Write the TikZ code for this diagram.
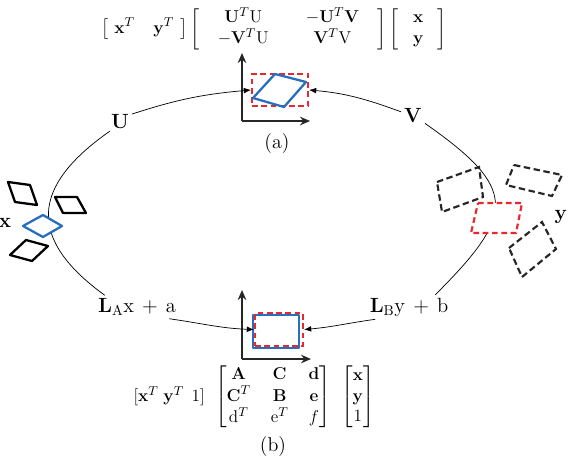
\documentclass[tikz,border=0pt]{standalone}
\usepackage{amsmath}
\usetikzlibrary{arrows.meta}
\definecolor{shapeblue}{RGB}{40,110,190}
\definecolor{shapered}{RGB}{232,40,45}

\begin{document}
\begin{tikzpicture}[
	x=0.7pt, y=0.7pt,
	lbl/.style={inner sep=2pt, font=\fontsize{14}{16}\selectfont},
	eqn/.style={inner sep=1pt, font=\fontsize{13}{14.5}\selectfont},
	axis/.style={-{Stealth[length=7pt,width=6pt]}, line width=1.6pt, black!85},
	orbitline/.style={line width=0.5pt, black},
	orbit/.style={orbitline, -{Latex[length=5pt,width=4pt]}},
	redbox/.style={draw=shapered, line width=1.5pt, dash pattern=on 4pt off 2.5pt, inner sep=0pt},
	bluebox/.style={draw=shapeblue, line width=1.6pt, line join=round},
	solidrh/.style={draw=black, line width=1.6pt, line join=round},
	dashrh/.style={draw=black!85, line width=1.5pt, dash pattern=on 4.5pt off 2.5pt}
]
\useasboundingbox (0,0) rectangle (568,-458);

\node[eqn, anchor=north] (topeq) at (274,-6) {$\bigl[\ \mathbf{x}^T\quad\mathbf{y}^T\ \bigr]\left[\setlength{\arraycolsep}{13pt}\begin{array}{cc}\mathbf{U}^T\mathrm{U} & -\mathbf{U}^T\mathbf{V}\\ -\mathbf{V}^T\mathrm{U} & \mathbf{V}^T\mathrm{V}\end{array}\right]\left[\setlength{\arraycolsep}{10pt}\begin{array}{c}\mathbf{x}\\ \mathbf{y}\end{array}\right]$};
\node[eqn] (boteq) at (254,-397) {\setlength{\arraycolsep}{7pt}$[\mathbf{x}^T\;\mathbf{y}^T\;\,1]\;\,\begin{bmatrix}\mathbf{A} & \mathbf{C} & \mathbf{d}\\ \mathbf{C}^T & \mathbf{B} & \mathbf{e}\\ \mathrm{d}^T & \mathrm{e}^T & f\end{bmatrix}\;\,\begin{bmatrix}\mathbf{x}\\ \mathbf{y}\\ 1\end{bmatrix}$};

\node[lbl] (ulab) at (120,-121) {$\mathbf{U}$};
\node[lbl] (vlab) at (413,-115) {$\mathbf{V}$};
\node[lbl] (xlab) at (5,-223) {$\mathbf{x}$};
\node[lbl] (ylab) at (561,-217) {$\mathbf{y}$};
\node[lbl] (lalab) at (137,-307) {$\mathbf{L}_{\mathrm{A}}\mathrm{x} \,+\, \mathrm{a}$};
\node[lbl] (lblab) at (409,-307) {$\mathbf{L}_{\mathrm{B}}\mathrm{y} \,+\, \mathrm{b}$};
\node[lbl] (alab) at (277,-144) {(a)};
\node[lbl] (blab) at (273,-447) {(b)};

\coordinate (topo) at (242,-121);
\draw[axis] (topo) -- ++(0,68);
\draw[axis] (topo) -- ++(68,0);
\node[redbox, minimum width=39.2pt, minimum height=22.4pt] (topbox) at (280,-90) {};
\draw[bluebox] (275,-74) -- (306,-82) -- (284,-107) -- (253,-98) -- cycle;

\coordinate (boto) at (242,-359);
\draw[axis] (boto) -- ++(0,69);
\draw[axis] (boto) -- ++(69,0);
\draw[bluebox] (253,-315) rectangle (299,-348);
\node[redbox, minimum width=33.6pt, minimum height=23.1pt] (botbox) at (279,-329.5) {};

\draw[orbit] (ulab.30) to[out=18,in=185] (topbox.west);
\draw[orbit] (vlab.165) to[out=160,in=-5] (topbox.east);
\draw[orbitline] (ulab.225) to[out=215,in=144,looseness=1.5] (lalab.160);
\draw[orbitline] (vlab.-35) to[out=-35,in=45,looseness=1.7] (lblab.25);
\draw[orbit] (lalab.-20) to[out=-8,in=178] (botbox.west);
\draw[orbit] (lblab.200) to[out=188,in=5] (botbox.east);

\draw[solidrh] (8,-182) -- (30,-185) -- (37,-205) -- (15,-202) -- cycle;
\draw[solidrh] (55,-197) -- (77,-197) -- (86,-213) -- (63,-213) -- cycle;
\draw[solidrh] (26,-240) -- (48,-246) -- (32,-261) -- (10,-255) -- cycle;
\draw[bluebox, fill=white] (43,-215) -- (62,-226) -- (43,-237) -- (23,-226) -- cycle;

\draw[dashrh] (437,-182) -- (479,-167) -- (483,-197) -- (442,-212) -- cycle;
\draw[dashrh] (514,-165) -- (562,-175) -- (552,-196) -- (506,-185) -- cycle;
\draw[dashrh] (509,-248) -- (542,-222) -- (556,-249) -- (522,-277) -- cycle;
\draw[redbox, fill=white] (478,-203) -- (522,-203) -- (516,-233) -- (471,-233) -- cycle;
\end{tikzpicture}
\end{document}
